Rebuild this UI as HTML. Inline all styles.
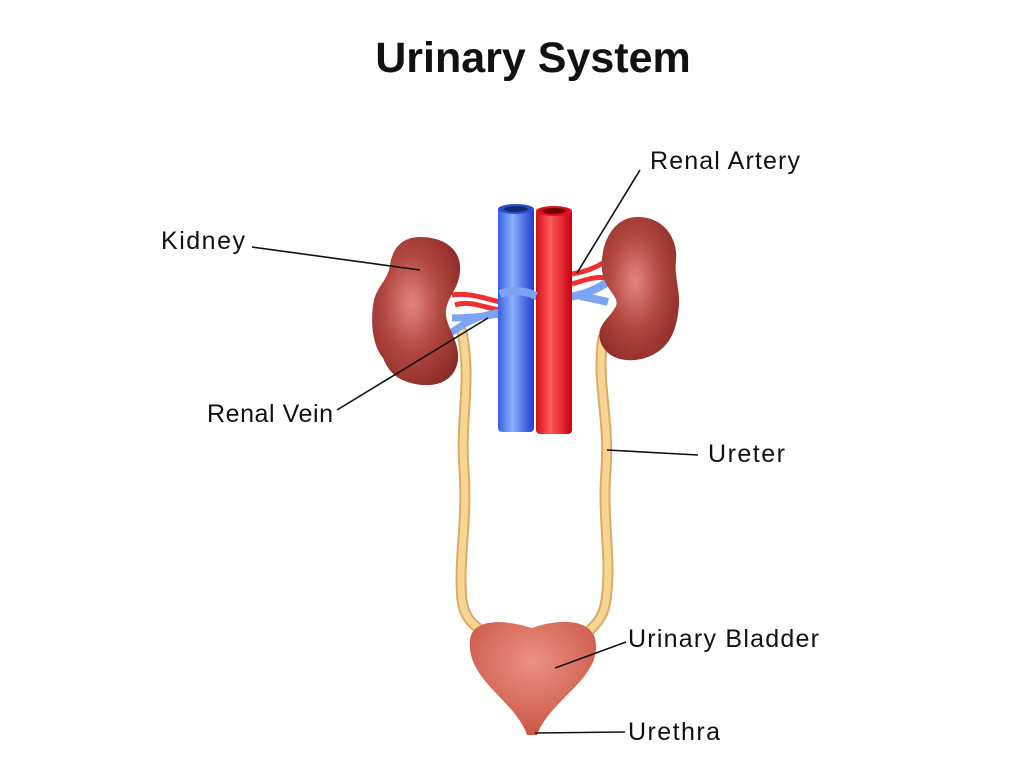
<!DOCTYPE html>
<html><head><meta charset="utf-8"><style>
html,body{margin:0;padding:0;background:#fff;width:1024px;height:768px;overflow:hidden}
svg{display:block}
text{font-family:"Liberation Sans",sans-serif;fill:#111}
</style></head><body>
<svg width="1024" height="768" viewBox="0 0 1024 768">
<defs>
<linearGradient id="bv" x1="0" x2="1"><stop offset="0" stop-color="#3a5fe0"/><stop offset="0.4" stop-color="#8ab0ff"/><stop offset="1" stop-color="#1d3fd0"/></linearGradient>
<linearGradient id="ar" x1="0" x2="1"><stop offset="0" stop-color="#d0101a"/><stop offset="0.4" stop-color="#ff5a5a"/><stop offset="1" stop-color="#c80010"/></linearGradient>
<radialGradient id="kd" cx="0.45" cy="0.45" r="0.65"><stop offset="0" stop-color="#e0857f"/><stop offset="0.5" stop-color="#b24840"/><stop offset="1" stop-color="#8a2a24"/></radialGradient>
<radialGradient id="bl" cx="0.5" cy="0.35" r="0.6"><stop offset="0" stop-color="#eb9282"/><stop offset="1" stop-color="#cc5a4a"/></radialGradient>
</defs>
<text x="533" y="72" font-size="43" font-weight="bold" text-anchor="middle">Urinary System</text>
<!-- ureters -->
<g fill="none" stroke-linecap="round">
<path d="M462,332 C472,380 460,420 464,470 C468,520 458,560 462,600 C464,615 470,622 478,628" stroke="#dcab63" stroke-width="11"/>
<path d="M462,332 C472,380 460,420 464,470 C468,520 458,560 462,600 C464,615 470,622 478,628" stroke="#f6d595" stroke-width="7"/>
<path d="M603,338 C596,380 610,420 606,470 C602,520 612,560 606,600 C604,615 598,622 590,630" stroke="#dcab63" stroke-width="11"/>
<path d="M603,338 C596,380 610,420 606,470 C602,520 612,560 606,600 C604,615 598,622 590,630" stroke="#f6d595" stroke-width="7"/>
</g>
<!-- renal vessels -->
<path d="M452,295 C470,292 490,300 500,302 M455,305 C470,300 485,308 500,310" stroke="#f03030" stroke-width="5" fill="none"/>
<path d="M448,335 C470,318 485,315 500,312 M452,318 C470,318 485,316 500,314" stroke="#7ba4f5" stroke-width="7" fill="none"/>
<path d="M572,274 C585,272 595,268 605,262 M572,284 C585,280 595,276 605,278" stroke="#f03030" stroke-width="5" fill="none"/>
<path d="M520,292 C550,302 580,300 608,282 M580,296 C590,298 600,300 608,302" stroke="#7ba4f5" stroke-width="8" fill="none"/>
<!-- vessels -->
<rect x="498" y="207" width="36" height="225" rx="4" fill="url(#bv)"/>
<ellipse cx="516" cy="209" rx="18" ry="5" fill="#2a4fd0"/><ellipse cx="516" cy="209" rx="12" ry="3" fill="#132a70"/>
<rect x="536" y="209" width="36" height="225" rx="4" fill="url(#ar)"/>
<ellipse cx="554" cy="211" rx="18" ry="5" fill="#e01020"/><ellipse cx="554" cy="211" rx="12" ry="3" fill="#700008"/>
<path d="M500,294 C510,290 525,290 536,296" stroke="#7ba4f5" stroke-width="8" fill="none"/>
<!-- kidneys -->
<path fill="url(#kd)" d="M420,237 C445,237 462,250 460,272 C458,290 448,296 446,310 C444,325 460,340 458,360 C455,382 435,388 415,384 C395,380 388,370 383,358 C372,345 370,320 374,300 C378,285 388,280 390,265 C393,245 405,237 420,237 Z"/>
<path fill="url(#kd)" d="M638,217 C665,217 678,240 676,260 C674,275 680,290 679,305 C677,330 670,350 645,358 C625,364 605,358 600,340 C596,325 610,318 616,306 C620,296 604,290 602,270 C600,245 612,217 638,217 Z"/>
<!-- bladder -->
<path d="M470,640 C472,620 500,618 532,628 C560,618 595,618 596,645 C598,680 550,700 537,735 L527,735 C515,700 466,680 470,640 Z" fill="url(#bl)"/>
<!-- leader lines -->
<g stroke="#111" stroke-width="1.6">
<line x1="252" y1="247" x2="420" y2="270"/>
<line x1="640" y1="170" x2="577" y2="273"/>
<line x1="337" y1="410" x2="488" y2="318"/>
<line x1="607" y1="450" x2="698" y2="455"/>
<line x1="555" y1="668" x2="626" y2="642"/>
<line x1="535" y1="733" x2="625" y2="732"/>
</g>
<g font-size="25">
<text x="161" y="249" textLength="84">Kidney</text>
<text x="650" y="169" textLength="150">Renal Artery</text>
<text x="207" y="422" textLength="126">Renal Vein</text>
<text x="708" y="462" textLength="77">Ureter</text>
<text x="628" y="647" textLength="191">Urinary Bladder</text>
<text x="628" y="740" textLength="92">Urethra</text>
</g>
</svg>
</body></html>
